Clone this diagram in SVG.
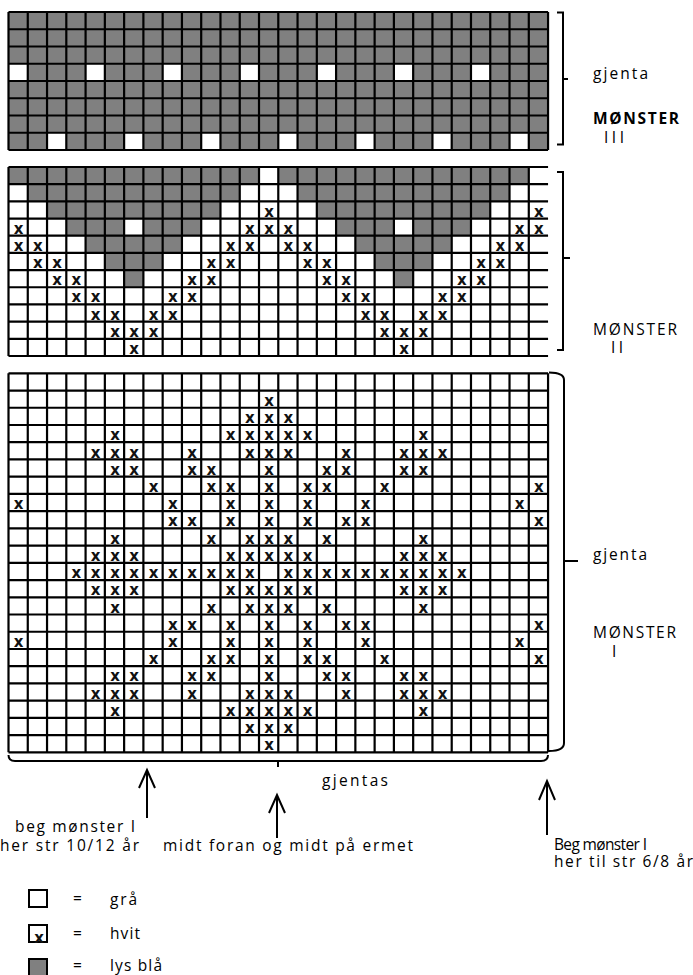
<svg xmlns="http://www.w3.org/2000/svg" width="693" height="975" viewBox="0 0 693 975">
<style>
.grid{fill:none;stroke:#000;stroke-width:2.2;vector-effect:non-scaling-stroke}
.g{fill:#808080}
.x{font-family:"DejaVu Sans",sans-serif;font-weight:bold;font-size:15px;text-anchor:middle;fill:#111}
.lbl{font-family:"Open Sans","Liberation Sans",sans-serif;font-size:15.5px;fill:#000}
.b{font-weight:bold}
.con{fill:none;stroke:#000;stroke-width:2}
</style>
<rect width="693" height="975" fill="#fff"/>

<g id="monster-3">
<g transform="translate(8.5 12) scale(19.27 17.25)">
<rect width="28" height="8" class="g"/>
<g fill="#fff">
<rect x="0" y="3" width="1" height="1"/><rect x="4" y="3" width="1" height="1"/><rect x="8" y="3" width="1" height="1"/><rect x="12" y="3" width="1" height="1"/><rect x="16" y="3" width="1" height="1"/><rect x="20" y="3" width="1" height="1"/><rect x="24" y="3" width="1" height="1"/>
<rect x="2" y="7" width="1" height="1"/><rect x="6" y="7" width="1" height="1"/><rect x="10" y="7" width="1" height="1"/><rect x="14" y="7" width="1" height="1"/><rect x="18" y="7" width="1" height="1"/><rect x="22" y="7" width="1" height="1"/><rect x="26" y="7" width="1" height="1"/>
</g>
<path class="grid" d="M0 0H28M0 1H28M0 2H28M0 3H28M0 4H28M0 5H28M0 6H28M0 7H28M0 8H28M0 0v8m1-8v8m1-8v8m1-8v8m1-8v8m1-8v8m1-8v8m1-8v8m1-8v8m1-8v8m1-8v8m1-8v8m1-8v8m1-8v8m1-8v8m1-8v8m1-8v8m1-8v8m1-8v8m1-8v8m1-8v8m1-8v8m1-8v8m1-8v8m1-8v8m1-8v8m1-8v8m1-8v8m1-8v8"/>
</g>
<text class="lbl" x="593" y="79" textLength="55" lengthAdjust="spacing">gjenta</text>
<text class="lbl b" x="593" y="124" textLength="86" lengthAdjust="spacing">MØNSTER</text>
<text class="lbl" x="604" y="143" textLength="20" lengthAdjust="spacing">III</text>
</g>

<g id="monster-2">
<g transform="translate(8.5 167) scale(19.27 17.18)">
<rect width="28" height="11" fill="#fff"/>
<g id="m2half" class="g">
<rect x="0" y="0" width="13" height="1"/>
<rect x="1" y="1" width="11" height="1"/>
<rect x="2" y="2" width="9" height="1"/>
<rect x="3" y="3" width="3" height="1"/><rect x="7" y="3" width="3" height="1"/>
<rect x="4" y="4" width="5" height="1"/>
<rect x="5" y="5" width="3" height="1"/>
<rect x="6" y="6" width="1" height="1"/>
</g>
<use href="#m2half" transform="translate(14 0)"/>
<path class="grid" d="M0 0H28M0 1H28M0 2H28M0 3H28M0 4H28M0 5H28M0 6H28M0 7H28M0 8H28M0 9H28M0 10H28M0 11H28M0 0v11m1-11v11m1-11v11m1-11v11m1-11v11m1-11v11m1-11v11m1-11v11m1-11v11m1-11v11m1-11v11m1-11v11m1-11v11m1-11v11m1-11v11m1-11v11m1-11v11m1-11v11m1-11v11m1-11v11m1-11v11m1-11v11m1-11v11m1-11v11m1-11v11m1-11v11m1-11v11m1-11v11"/>
</g>
<text class="x" x="269.1" y="216.5">x</text><text class="x" x="538.9" y="216.5">x</text>
<text class="x" x="18.6" y="233.7">x</text><text class="x" x="249.8" y="233.7">x</text><text class="x" x="269.1" y="233.7">x</text><text class="x" x="288.4" y="233.7">x</text><text class="x" x="519.6" y="233.7">x</text><text class="x" x="538.9" y="233.7">x</text>
<text class="x" x="18.6" y="250.9">x</text><text class="x" x="37.9" y="250.9">x</text><text class="x" x="230.6" y="250.9">x</text><text class="x" x="249.8" y="250.9">x</text><text class="x" x="288.4" y="250.9">x</text><text class="x" x="307.7" y="250.9">x</text><text class="x" x="500.3" y="250.9">x</text><text class="x" x="519.6" y="250.9">x</text>
<text class="x" x="37.9" y="268.1">x</text><text class="x" x="57.2" y="268.1">x</text><text class="x" x="211.3" y="268.1">x</text><text class="x" x="230.6" y="268.1">x</text><text class="x" x="307.7" y="268.1">x</text><text class="x" x="326.9" y="268.1">x</text><text class="x" x="481.1" y="268.1">x</text><text class="x" x="500.3" y="268.1">x</text>
<text class="x" x="57.2" y="285.3">x</text><text class="x" x="76.4" y="285.3">x</text><text class="x" x="192.0" y="285.3">x</text><text class="x" x="211.3" y="285.3">x</text><text class="x" x="326.9" y="285.3">x</text><text class="x" x="346.2" y="285.3">x</text><text class="x" x="461.8" y="285.3">x</text><text class="x" x="481.1" y="285.3">x</text>
<text class="x" x="76.4" y="302.4">x</text><text class="x" x="95.7" y="302.4">x</text><text class="x" x="172.8" y="302.4">x</text><text class="x" x="192.0" y="302.4">x</text><text class="x" x="346.2" y="302.4">x</text><text class="x" x="365.5" y="302.4">x</text><text class="x" x="442.5" y="302.4">x</text><text class="x" x="461.8" y="302.4">x</text>
<text class="x" x="95.7" y="319.6">x</text><text class="x" x="115.0" y="319.6">x</text><text class="x" x="153.5" y="319.6">x</text><text class="x" x="172.8" y="319.6">x</text><text class="x" x="365.5" y="319.6">x</text><text class="x" x="384.7" y="319.6">x</text><text class="x" x="423.3" y="319.6">x</text><text class="x" x="442.5" y="319.6">x</text>
<text class="x" x="115.0" y="336.8">x</text><text class="x" x="134.2" y="336.8">x</text><text class="x" x="153.5" y="336.8">x</text><text class="x" x="384.7" y="336.8">x</text><text class="x" x="404.0" y="336.8">x</text><text class="x" x="423.3" y="336.8">x</text>
<text class="x" x="134.2" y="354.0">x</text><text class="x" x="404.0" y="354.0">x</text>
<text class="lbl" x="593" y="335" textLength="84" lengthAdjust="spacing">MØNSTER</text>
<text class="lbl" x="611" y="353" textLength="12" lengthAdjust="spacing">II</text>
</g>

<g id="monster-1">
<g transform="translate(8.5 373.3) scale(19.27 17.23)">
<rect width="28" height="22" fill="#fff"/>
<path class="grid" d="M0 0H28M0 1H28M0 2H28M0 3H28M0 4H28M0 5H28M0 6H28M0 7H28M0 8H28M0 9H28M0 10H28M0 11H28M0 12H28M0 13H28M0 14H28M0 15H28M0 16H28M0 17H28M0 18H28M0 19H28M0 20H28M0 21H28M0 22H28M0 0v22m1-22v22m1-22v22m1-22v22m1-22v22m1-22v22m1-22v22m1-22v22m1-22v22m1-22v22m1-22v22m1-22v22m1-22v22m1-22v22m1-22v22m1-22v22m1-22v22m1-22v22m1-22v22m1-22v22m1-22v22m1-22v22m1-22v22m1-22v22m1-22v22m1-22v22m1-22v22m1-22v22m1-22v22"/>
</g>
<text class="x" x="269.1" y="405.8">x</text>
<text class="x" x="249.8" y="423.0">x</text><text class="x" x="269.1" y="423.0">x</text><text class="x" x="288.4" y="423.0">x</text>
<text class="x" x="115.0" y="440.2">x</text><text class="x" x="230.6" y="440.2">x</text><text class="x" x="249.8" y="440.2">x</text><text class="x" x="269.1" y="440.2">x</text><text class="x" x="288.4" y="440.2">x</text><text class="x" x="307.7" y="440.2">x</text><text class="x" x="423.3" y="440.2">x</text>
<text class="x" x="95.7" y="457.5">x</text><text class="x" x="115.0" y="457.5">x</text><text class="x" x="134.2" y="457.5">x</text><text class="x" x="192.0" y="457.5">x</text><text class="x" x="249.8" y="457.5">x</text><text class="x" x="269.1" y="457.5">x</text><text class="x" x="288.4" y="457.5">x</text><text class="x" x="346.2" y="457.5">x</text><text class="x" x="404.0" y="457.5">x</text><text class="x" x="423.3" y="457.5">x</text><text class="x" x="442.5" y="457.5">x</text>
<text class="x" x="115.0" y="474.7">x</text><text class="x" x="134.2" y="474.7">x</text><text class="x" x="192.0" y="474.7">x</text><text class="x" x="211.3" y="474.7">x</text><text class="x" x="269.1" y="474.7">x</text><text class="x" x="326.9" y="474.7">x</text><text class="x" x="346.2" y="474.7">x</text><text class="x" x="404.0" y="474.7">x</text><text class="x" x="423.3" y="474.7">x</text>
<text class="x" x="153.5" y="491.9">x</text><text class="x" x="211.3" y="491.9">x</text><text class="x" x="230.6" y="491.9">x</text><text class="x" x="269.1" y="491.9">x</text><text class="x" x="307.7" y="491.9">x</text><text class="x" x="326.9" y="491.9">x</text><text class="x" x="384.7" y="491.9">x</text><text class="x" x="538.9" y="491.9">x</text>
<text class="x" x="18.6" y="509.1">x</text><text class="x" x="172.8" y="509.1">x</text><text class="x" x="230.6" y="509.1">x</text><text class="x" x="269.1" y="509.1">x</text><text class="x" x="307.7" y="509.1">x</text><text class="x" x="365.5" y="509.1">x</text><text class="x" x="519.6" y="509.1">x</text>
<text class="x" x="172.8" y="526.4">x</text><text class="x" x="192.0" y="526.4">x</text><text class="x" x="230.6" y="526.4">x</text><text class="x" x="269.1" y="526.4">x</text><text class="x" x="307.7" y="526.4">x</text><text class="x" x="346.2" y="526.4">x</text><text class="x" x="365.5" y="526.4">x</text><text class="x" x="538.9" y="526.4">x</text>
<text class="x" x="115.0" y="543.6">x</text><text class="x" x="211.3" y="543.6">x</text><text class="x" x="249.8" y="543.6">x</text><text class="x" x="269.1" y="543.6">x</text><text class="x" x="288.4" y="543.6">x</text><text class="x" x="326.9" y="543.6">x</text><text class="x" x="423.3" y="543.6">x</text>
<text class="x" x="95.7" y="560.8">x</text><text class="x" x="115.0" y="560.8">x</text><text class="x" x="134.2" y="560.8">x</text><text class="x" x="230.6" y="560.8">x</text><text class="x" x="249.8" y="560.8">x</text><text class="x" x="269.1" y="560.8">x</text><text class="x" x="288.4" y="560.8">x</text><text class="x" x="307.7" y="560.8">x</text><text class="x" x="404.0" y="560.8">x</text><text class="x" x="423.3" y="560.8">x</text><text class="x" x="442.5" y="560.8">x</text>
<text class="x" x="76.4" y="578.1">x</text><text class="x" x="95.7" y="578.1">x</text><text class="x" x="115.0" y="578.1">x</text><text class="x" x="134.2" y="578.1">x</text><text class="x" x="153.5" y="578.1">x</text><text class="x" x="172.8" y="578.1">x</text><text class="x" x="192.0" y="578.1">x</text><text class="x" x="211.3" y="578.1">x</text><text class="x" x="230.6" y="578.1">x</text><text class="x" x="249.8" y="578.1">x</text><text class="x" x="288.4" y="578.1">x</text><text class="x" x="307.7" y="578.1">x</text><text class="x" x="326.9" y="578.1">x</text><text class="x" x="346.2" y="578.1">x</text><text class="x" x="365.5" y="578.1">x</text><text class="x" x="384.7" y="578.1">x</text><text class="x" x="404.0" y="578.1">x</text><text class="x" x="423.3" y="578.1">x</text><text class="x" x="442.5" y="578.1">x</text><text class="x" x="461.8" y="578.1">x</text>
<text class="x" x="95.7" y="595.3">x</text><text class="x" x="115.0" y="595.3">x</text><text class="x" x="134.2" y="595.3">x</text><text class="x" x="230.6" y="595.3">x</text><text class="x" x="249.8" y="595.3">x</text><text class="x" x="269.1" y="595.3">x</text><text class="x" x="288.4" y="595.3">x</text><text class="x" x="307.7" y="595.3">x</text><text class="x" x="404.0" y="595.3">x</text><text class="x" x="423.3" y="595.3">x</text><text class="x" x="442.5" y="595.3">x</text>
<text class="x" x="115.0" y="612.5">x</text><text class="x" x="211.3" y="612.5">x</text><text class="x" x="249.8" y="612.5">x</text><text class="x" x="269.1" y="612.5">x</text><text class="x" x="288.4" y="612.5">x</text><text class="x" x="326.9" y="612.5">x</text><text class="x" x="423.3" y="612.5">x</text>
<text class="x" x="172.8" y="629.7">x</text><text class="x" x="192.0" y="629.7">x</text><text class="x" x="230.6" y="629.7">x</text><text class="x" x="269.1" y="629.7">x</text><text class="x" x="307.7" y="629.7">x</text><text class="x" x="346.2" y="629.7">x</text><text class="x" x="365.5" y="629.7">x</text><text class="x" x="538.9" y="629.7">x</text>
<text class="x" x="18.6" y="647.0">x</text><text class="x" x="172.8" y="647.0">x</text><text class="x" x="230.6" y="647.0">x</text><text class="x" x="269.1" y="647.0">x</text><text class="x" x="307.7" y="647.0">x</text><text class="x" x="365.5" y="647.0">x</text><text class="x" x="519.6" y="647.0">x</text>
<text class="x" x="153.5" y="664.2">x</text><text class="x" x="211.3" y="664.2">x</text><text class="x" x="230.6" y="664.2">x</text><text class="x" x="269.1" y="664.2">x</text><text class="x" x="307.7" y="664.2">x</text><text class="x" x="326.9" y="664.2">x</text><text class="x" x="384.7" y="664.2">x</text><text class="x" x="538.9" y="664.2">x</text>
<text class="x" x="115.0" y="681.4">x</text><text class="x" x="134.2" y="681.4">x</text><text class="x" x="192.0" y="681.4">x</text><text class="x" x="211.3" y="681.4">x</text><text class="x" x="269.1" y="681.4">x</text><text class="x" x="326.9" y="681.4">x</text><text class="x" x="346.2" y="681.4">x</text><text class="x" x="404.0" y="681.4">x</text><text class="x" x="423.3" y="681.4">x</text>
<text class="x" x="95.7" y="698.7">x</text><text class="x" x="115.0" y="698.7">x</text><text class="x" x="134.2" y="698.7">x</text><text class="x" x="192.0" y="698.7">x</text><text class="x" x="249.8" y="698.7">x</text><text class="x" x="269.1" y="698.7">x</text><text class="x" x="288.4" y="698.7">x</text><text class="x" x="346.2" y="698.7">x</text><text class="x" x="404.0" y="698.7">x</text><text class="x" x="423.3" y="698.7">x</text><text class="x" x="442.5" y="698.7">x</text>
<text class="x" x="115.0" y="715.9">x</text><text class="x" x="230.6" y="715.9">x</text><text class="x" x="249.8" y="715.9">x</text><text class="x" x="269.1" y="715.9">x</text><text class="x" x="288.4" y="715.9">x</text><text class="x" x="307.7" y="715.9">x</text><text class="x" x="423.3" y="715.9">x</text>
<text class="x" x="249.8" y="733.1">x</text><text class="x" x="269.1" y="733.1">x</text><text class="x" x="288.4" y="733.1">x</text>
<text class="x" x="269.1" y="750.3">x</text>
<text class="lbl" x="593" y="560" textLength="54" lengthAdjust="spacing">gjenta</text>
<text class="lbl" x="593" y="638" textLength="83" lengthAdjust="spacing">MØNSTER</text>
<text class="lbl" x="612" y="657">I</text>
</g>

<g id="connectors">
<path class="con" d="M557 12.5H563V144.5H557M563 79H568"/>
<path class="con" d="M557 172H563V350H557M563 258H570"/>
<path class="con" d="M549 372.5Q564 372.5 564 380V743Q564 751 549 751M564 561H578"/>
<path class="con" d="M8.5 755Q8.5 761 15 761H541Q548 761 548 755M278 761V767"/>
<path class="con" d="M147 818V771M139 788L147 770L155 788"/>
<path class="con" d="M277 838V796M269 813L277 795L285 813"/>
<path class="con" d="M547 835V782M539 800L547 781L555 800"/>
</g>

<g id="bottom-labels">
<text class="lbl" x="322" y="786" textLength="66" lengthAdjust="spacing">gjentas</text>
<text class="lbl" x="15" y="832" textLength="120" lengthAdjust="spacing">beg mønster I</text>
<text class="lbl" x="0" y="851" textLength="139" lengthAdjust="spacing">her str 10/12 år</text>
<text class="lbl" x="163" y="851" textLength="250" lengthAdjust="spacing">midt foran og midt på ermet</text>
<text class="lbl" x="554" y="850" textLength="93" lengthAdjust="spacing">Beg mønster I</text>
<text class="lbl" x="554" y="867" textLength="139" lengthAdjust="spacing">her til str 6/8 år</text>
</g>

<g id="legend">
<rect x="29" y="890" width="18" height="17" fill="#fff" stroke="#000" stroke-width="2"/>
<text class="lbl" x="73" y="904">=</text>
<text class="lbl" x="110" y="905" textLength="27" lengthAdjust="spacing">grå</text>
<rect x="29" y="925" width="18" height="17" fill="#fff" stroke="#000" stroke-width="2"/>
<text class="x" x="39" y="943">x</text>
<text class="lbl" x="73" y="939">=</text>
<text class="lbl" x="110" y="939" textLength="30" lengthAdjust="spacing">hvit</text>
<rect x="29" y="959" width="18" height="17" class="g" stroke="#000" stroke-width="2"/>
<text class="lbl" x="73" y="971">=</text>
<text class="lbl" x="110" y="971" textLength="52" lengthAdjust="spacing">lys blå</text>
</g>
</svg>
